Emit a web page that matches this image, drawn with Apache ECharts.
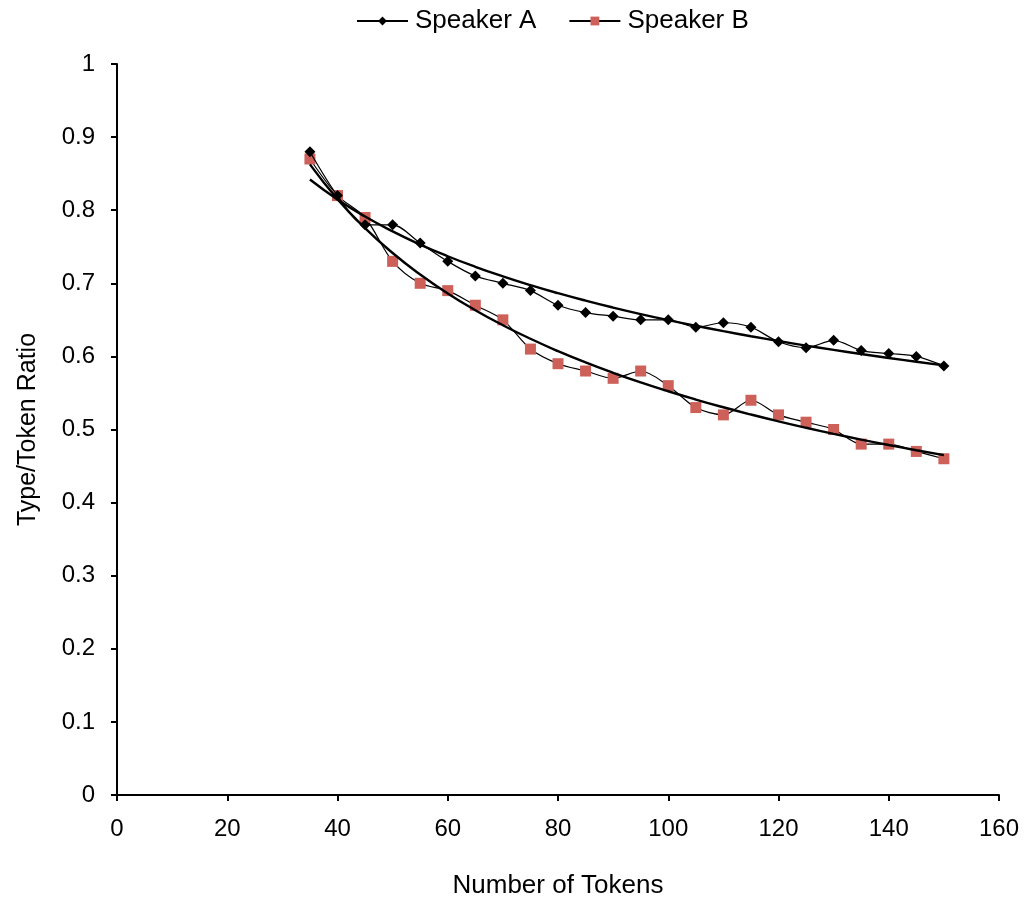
<!DOCTYPE html>
<html><head><meta charset="utf-8">
<script src="https://cdn.jsdelivr.net/npm/echarts@6/dist/echarts.min.js"></script>
<style>html,body{margin:0;padding:0;background:#fff}#c{width:1030px;height:905px}</style>
</head><body><div id="c"></div>
<script>
const tokens = [35,40,45,50,55,60,65,70,75,80,85,90,95,100,105,110,115,120,125,130,135,140,145,150];
const speakerA = [0.88,0.82,0.78,0.78,0.755,0.73,0.71,0.70,0.69,0.67,0.66,0.655,0.65,0.65,0.64,0.646,0.64,0.62,0.612,0.622,0.608,0.604,0.60,0.587];
const speakerB = [0.87,0.82,0.79,0.73,0.70,0.69,0.67,0.65,0.61,0.59,0.58,0.57,0.58,0.56,0.53,0.52,0.54,0.52,0.51,0.50,0.48,0.48,0.47,0.46];
const xTicks = [0,20,40,60,80,100,120,140,160];
const yTicks = [0,0.1,0.2,0.3,0.4,0.5,0.6,0.7,0.8,0.9,1];

// Power-law trendline (least squares on ln x, ln y), as in a spreadsheet trendline
function powerFit(xs, ys){
  const n = xs.length; let sx=0,sy=0,sxx=0,sxy=0;
  for(let i=0;i<n;i++){const lx=Math.log(xs[i]),ly=Math.log(ys[i]);sx+=lx;sy+=ly;sxx+=lx*lx;sxy+=lx*ly;}
  const b=(n*sxy-sx*sy)/(n*sxx-sx*sx); const a=Math.exp((sy-b*sx)/n);
  return xs.map(x=>[x, a*Math.pow(x,b)]);
}
const trendA = powerFit(tokens, speakerA);
const trendB = powerFit(tokens, speakerB);

const font = 'Liberation Sans, Arial, Helvetica, sans-serif';
const chart = echarts.init(document.getElementById('c'));
chart.setOption({
  animation:false,
  backgroundColor:'#fff',
  textStyle:{fontFamily:font},
  legend:{
    data:['Speaker A','Speaker B'], top:3, left:351, itemWidth:51, itemHeight:11, itemGap:32,
    textStyle:{fontFamily:font,fontSize:26,color:'#000',padding:[0,0,0,2]}
  },
  grid:{left:117,right:31,top:64,bottom:110},
  xAxis:{
    type:'value', min:0, max:160, interval:20,
    name:'Number of Tokens', nameLocation:'middle', nameGap:78,
    nameTextStyle:{fontFamily:font,fontSize:26,color:'#000'},
    axisLine:{lineStyle:{color:'#000',width:2}},
    axisTick:{show:true,length:6,lineStyle:{color:'#000',width:2}},
    axisLabel:{fontFamily:font,fontSize:24,color:'#000',margin:22},
    splitLine:{show:false}
  },
  yAxis:{
    type:'value', min:0, max:1, interval:0.1,
    name:'Type/Token Ratio', nameLocation:'middle', nameGap:76,
    nameTextStyle:{fontFamily:font,fontSize:25,color:'#000'},
    axisLine:{show:true,lineStyle:{color:'#000',width:2}},
    axisTick:{show:true,length:6,lineStyle:{color:'#000',width:2}},
    axisLabel:{fontFamily:font,fontSize:24,color:'#000',margin:22,formatter:v=>String(Math.round(v*10)/10)},
    splitLine:{show:false}
  },
  series:[
    {name:'Speaker A',type:'line',data:tokens.map((x,i)=>[x,speakerA[i]]),smooth:0.3,
     symbol:'diamond',symbolSize:11,itemStyle:{color:'#000'},lineStyle:{color:'#000',width:1.2},z:4},
    {name:'Speaker B',type:'line',data:tokens.map((x,i)=>[x,speakerB[i]]),smooth:0.3,
     symbol:'rect',symbolSize:11,itemStyle:{color:'#CD615A'},lineStyle:{color:'#000',width:1.2},z:3},
    {name:'Trend A',type:'line',data:trendA,smooth:true,showSymbol:false,symbol:'none',
     lineStyle:{color:'#000',width:2.4},z:5,silent:true},
    {name:'Trend B',type:'line',data:trendB,smooth:true,showSymbol:false,symbol:'none',
     lineStyle:{color:'#000',width:2.4},z:5,silent:true}
  ]
});
</script></body></html>
